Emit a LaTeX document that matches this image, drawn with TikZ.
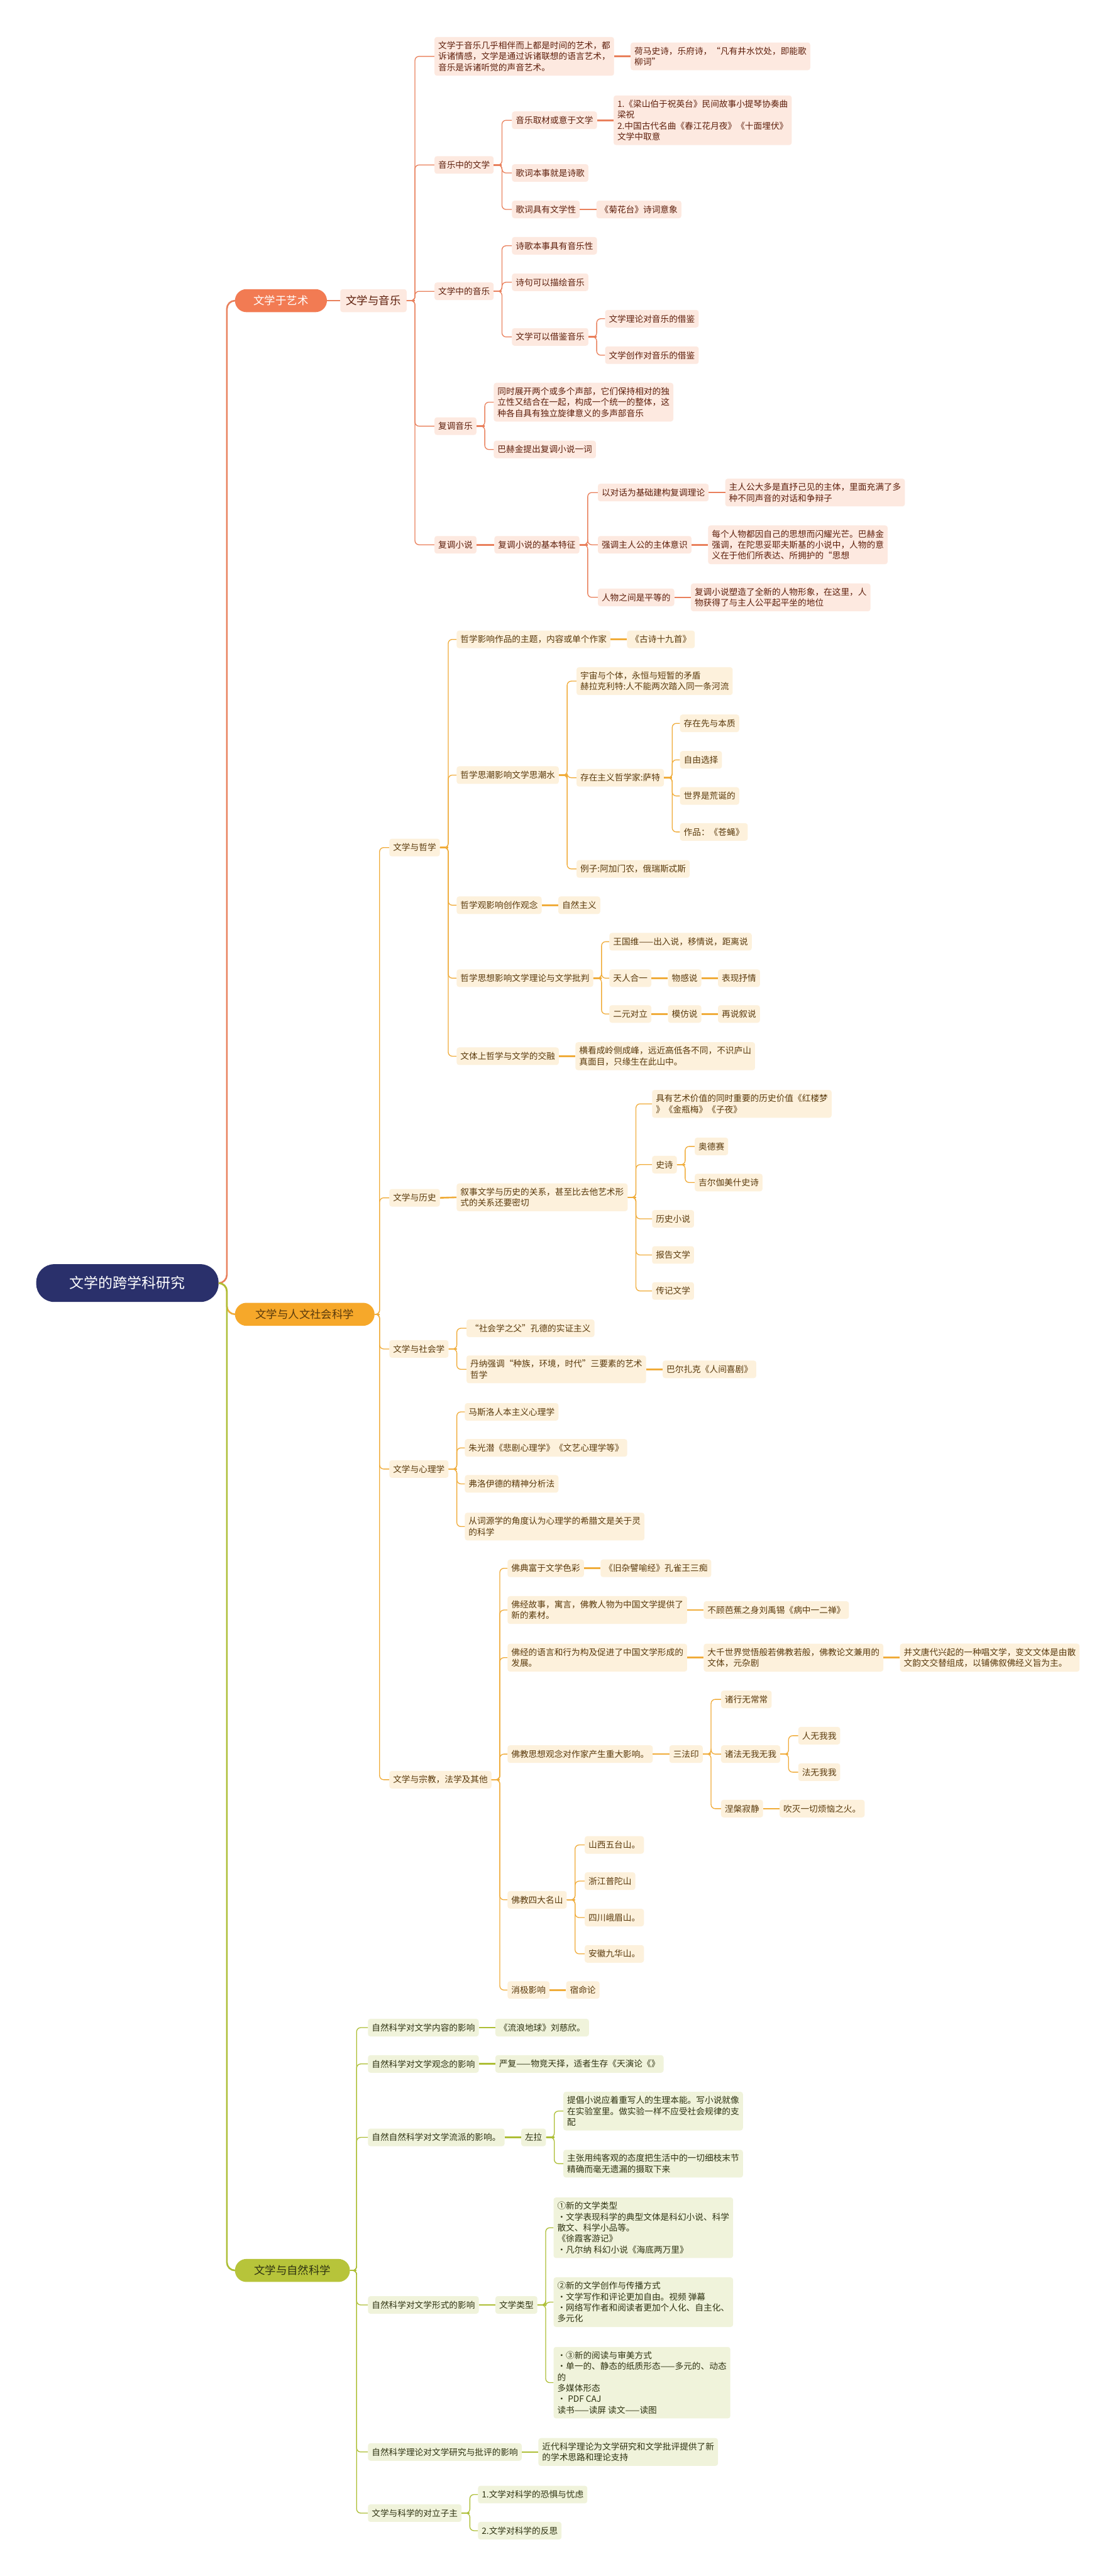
\documentclass[tikz,border=0pt]{standalone}
\usepackage{fontspec}
\setmainfont{Noto Sans CJK SC}
\usepackage{tikz}
\usetikzlibrary{positioning}

\definecolor{rootblue}{HTML}{2A306B}
\definecolor{artmain}{HTML}{F27B53}
\definecolor{artline}{HTML}{E9805C}
\definecolor{artfill}{HTML}{FDE9E0}
\definecolor{arttext}{HTML}{5E1F0C}
\definecolor{humain}{HTML}{F6A82A}
\definecolor{huline}{HTML}{F0AC3A}
\definecolor{hufill}{HTML}{FDF1DC}
\definecolor{hutext}{HTML}{5A3A0C}
\definecolor{scimain}{HTML}{B7C43A}
\definecolor{sciline}{HTML}{ADBE35}
\definecolor{scifill}{HTML}{F0F3DB}
\definecolor{scitext}{HTML}{2F3312}

\newcommand{\leafsize}{\fontsize{14.9pt}{18.9pt}\selectfont}
\newcommand{\headsize}{\fontsize{19pt}{22pt}\selectfont}
\newcommand{\rootsize}{\fontsize{25pt}{28pt}\selectfont}

\tikzset{
  leaf/.style={
    rectangle, rounded corners=1.5mm, inner xsep=2.3mm, inner ysep=2.7mm,
    minimum height=10.7mm, align=left, anchor=west, font=\leafsize
  },
  art box/.style={leaf, fill=artfill, text=arttext},
  hu box/.style={leaf, fill=hufill, text=hutext},
  sci box/.style={leaf, fill=scifill, text=scitext},
  music box/.style={art box, font=\headsize, minimum height=14mm, inner xsep=3.5mm},
  main box/.style={
    rectangle, rounded corners=7mm, minimum height=14mm, anchor=west,
    font=\headsize, inner xsep=5mm
  },
  root box/.style={
    rectangle, rounded corners=11mm, minimum height=23mm, minimum width=111mm,
    anchor=west, font=\rootsize, fill=rootblue, text=white
  },
  fork/.style={to path={-- ++(#1,0) |- (\tikztotarget)}},
  fork/.default=5mm,
  art link/.style={draw=artline, line width=0.5mm, rounded corners=2.5mm},
  art bar/.style={draw=artline, line width=1mm},
  hu link/.style={draw=huline, line width=0.5mm, rounded corners=2.5mm},
  hu bar/.style={draw=huline, line width=1mm},
  sci link/.style={draw=sciline, line width=0.5mm, rounded corners=2.5mm},
  sci bar/.style={draw=sciline, line width=1mm}
}

\begin{document}
\begin{tikzpicture}[x=1mm, y=-1mm, node distance=10mm]
  \fill[white] (0,0) rectangle (678,1568);

  % root and main branches
  \node[root box] (root) at (22,781) {文学的跨学科研究};
  \node[main box, fill=artmain, text=white, minimum width=56mm] (art) at (143,183) {文学于艺术};
  \node[main box, fill=humain, text=hutext, minimum width=85mm] (human) at (143,800) {文学与人文社会科学};
  \node[main box, fill=scimain, text=scitext, minimum width=70mm] (science) at (143,1382) {文学与自然科学};

  \draw[art bar, rounded corners=5mm] (root.east) to[fork] (art.west);
  \draw[hu bar, rounded corners=5mm] (root.east) to[fork] (human.west);
  \draw[sci bar, rounded corners=5mm] (root.east) to[fork] (science.west);

  % ---- art / music
  \node[music box, right=8mm of art] (music) {文学与音乐};
  \draw[art bar] (art.east) -- (music.west);

  \node[art box] (a1) at (264.5,34.3) {文学于音乐几乎相伴而上都是时间的艺术，都\\诉诸情感，文学是通过诉诸联想的语言艺术，\\音乐是诉诸听觉的声音艺术。};
  \node[art box, right=of a1] (a1x) {荷马史诗，乐府诗，“凡有井水饮处，即能歌\\柳词”};
  \node[art box] (a2) at (264.5,100.4) {音乐中的文学};
  \node[art box] (a2a) at (311.7,73.2) {音乐取材或意于文学};
  \node[art box, right=of a2a] (a2ax) {1.《梁山伯于祝英台》民间故事小提琴协奏曲\\梁祝\\2.中国古代名曲《春江花月夜》《十面埋伏》\\文学中取意};
  \node[art box] (a2b) at (311.7,105.3) {歌词本事就是诗歌};
  \node[art box] (a2c) at (311.7,127.5) {歌词具有文学性};
  \node[art box, right=of a2c] (a2cx) {《菊花台》诗词意象};
  \node[art box] (a3) at (264.5,177.3) {文学中的音乐};
  \node[art box] (a3a) at (311.7,149.6) {诗歌本事具有音乐性};
  \node[art box] (a3b) at (311.7,171.8) {诗句可以描绘音乐};
  \node[art box] (a3c) at (311.7,205.1) {文学可以借鉴音乐};
  \node[art box] (a3c1) at (368.4,194) {文学理论对音乐的借鉴};
  \node[art box] (a3c2) at (368.4,216.2) {文学创作对音乐的借鉴};
  \node[art box] (a4) at (264.5,259.4) {复调音乐};
  \node[art box] (a4a) at (300.6,244.8) {同时展开两个或多个声部，它们保持相对的独\\立性又结合在一起，构成一个统一的整体，这\\种各自具有独立旋律意义的多声部音乐};
  \node[art box] (a4b) at (300.6,273.6) {巴赫金提出复调小说一词};
  \node[art box] (a5) at (264.5,331.6) {复调小说};
  \node[art box] (a5a) at (301,331.6) {复调小说的基本特征};
  \node[art box] (a5a1) at (364,299.8) {以对话为基础建构复调理论};
  \node[art box, right=of a5a1] (a5a1x) {主人公大多是直抒己见的主体，里面充满了多\\种不同声音的对话和争辩子};
  \node[art box] (a5a2) at (364,331.6) {强调主人公的主体意识};
  \node[art box, right=of a5a2] (a5a2x) {每个人物都因自己的思想而闪耀光芒。巴赫金\\强调，在陀思妥耶夫斯基的小说中，人物的意\\义在于他们所表达、所拥护的“思想};
  \node[art box] (a5a3) at (364,363.6) {人物之间是平等的};
  \node[art box, right=of a5a3] (a5a3x) {复调小说塑造了全新的人物形象，在这里，人\\物获得了与主人公平起平坐的地位};

  \draw[art bar] (music.east) -- ++(5mm,0);
  \draw[art link] (music.east) to[fork] (a1.west);
  \draw[art link] (music.east) to[fork] (a2.west);
  \draw[art link] (music.east) to[fork] (a3.west);
  \draw[art link] (music.east) to[fork] (a4.west);
  \draw[art link] (music.east) to[fork] (a5.west);
  \draw[art bar] (a1.east) -- (a1x.west);
  \draw[art bar] (a2.east) -- ++(5mm,0);
  \draw[art link] (a2.east) to[fork] (a2a.west);
  \draw[art link] (a2.east) to[fork] (a2b.west);
  \draw[art link] (a2.east) to[fork] (a2c.west);
  \draw[art bar] (a2a.east) -- (a2ax.west);
  \draw[art bar] (a2c.east) -- (a2cx.west);
  \draw[art bar] (a3.east) -- ++(5mm,0);
  \draw[art link] (a3.east) to[fork] (a3a.west);
  \draw[art link] (a3.east) to[fork] (a3b.west);
  \draw[art link] (a3.east) to[fork] (a3c.west);
  \draw[art bar] (a3c.east) -- ++(5mm,0);
  \draw[art link] (a3c.east) to[fork] (a3c1.west);
  \draw[art link] (a3c.east) to[fork] (a3c2.west);
  \draw[art bar] (a4.east) -- ++(5mm,0);
  \draw[art link] (a4.east) to[fork] (a4a.west);
  \draw[art link] (a4.east) to[fork] (a4b.west);
  \draw[art bar] (a5.east) -- (a5a.west);
  \draw[art bar] (a5a.east) -- ++(5mm,0);
  \draw[art link] (a5a.east) to[fork] (a5a1.west);
  \draw[art link] (a5a.east) to[fork] (a5a2.west);
  \draw[art link] (a5a.east) to[fork] (a5a3.west);
  \draw[art bar] (a5a1.east) -- (a5a1x.west);
  \draw[art bar] (a5a2.east) -- (a5a2x.west);
  \draw[art bar] (a5a3.east) -- (a5a3x.west);

  % ---- human and social sciences
  \node[hu box] (h1) at (237,515.9) {文学与哲学};
  \node[hu box] (h1a) at (278,389.2) {哲学影响作品的主题，内容或单个作家};
  \node[hu box, right=of h1a] (h1ax) {《古诗十九首》};
  \node[hu box] (h1b) at (278,471.8) {哲学思潮影响文学思潮水};
  \node[hu box] (h1b1) at (351,414.6) {宇宙与个体，永恒与短暂的矛盾\\赫拉克利特:人不能两次踏入同一条河流};
  \node[hu box] (h1b2) at (351,473.4) {存在主义哲学家:萨特};
  \node[hu box] (h1b2a) at (414,440.3) {存在先与本质};
  \node[hu box] (h1b2b) at (414,462.5) {自由选择};
  \node[hu box] (h1b2c) at (414,484.5) {世界是荒诞的};
  \node[hu box] (h1b2d) at (414,506.4) {作品：《苍蝇》};
  \node[hu box] (h1b3) at (351,528.9) {例子:阿加门农，俄瑞斯忒斯};
  \node[hu box] (h1c) at (278,551) {哲学观影响创作观念};
  \node[hu box, right=of h1c] (h1cx) {自然主义};
  \node[hu box] (h1d) at (278,595.4) {哲学思想影响文学理论与文学批判};
  \node[hu box] (h1d1) at (371,573.2) {王国维——出入说，移情说，距离说};
  \node[hu box] (h1d2) at (371,595.4) {天人合一};
  \node[hu box, right=of h1d2] (h1d2x) {物感说};
  \node[hu box, right=of h1d2x] (h1d2y) {表现抒情};
  \node[hu box] (h1d3) at (371,617.2) {二元对立};
  \node[hu box, right=of h1d3] (h1d3x) {模仿说};
  \node[hu box, right=of h1d3x] (h1d3y) {再说叙说};
  \node[hu box] (h1e) at (278,642.9) {文体上哲学与文学的交融};
  \node[hu box, right=of h1e] (h1ex) {横看成岭侧成峰，远近高低各不同，不识庐山\\真面目，只缘生在此山中。};

  \node[hu box] (h2) at (237,729.1) {文学与历史};
  \node[hu box] (h2a) at (278,728.8) {叙事文学与历史的关系，甚至比去他艺术形\\式的关系还要密切};
  \node[hu box] (h2a1) at (397,671.9) {具有艺术价值的同时重要的历史价值《红楼梦\\》《金瓶梅》《子夜》};
  \node[hu box] (h2a2) at (397,708.9) {史诗};
  \node[hu box] (h2a2a) at (423,697.8) {奥德赛};
  \node[hu box] (h2a2b) at (423,719.8) {吉尔伽美什史诗};
  \node[hu box] (h2a3) at (397,741.9) {历史小说};
  \node[hu box] (h2a4) at (397,763.9) {报告文学};
  \node[hu box] (h2a5) at (397,785.8) {传记文学};

  \node[hu box] (h3) at (237,821.1) {文学与社会学};
  \node[hu box] (h3a) at (284,808.5) {“社会学之父”孔德的实证主义};
  \node[hu box] (h3b) at (284,833.5) {丹纳强调“种族，环境，时代”三要素的艺术\\哲学};
  \node[hu box, right=of h3b] (h3bx) {巴尔扎克《人间喜剧》};

  \node[hu box] (h4) at (237,894.2) {文学与心理学};
  \node[hu box] (h4a) at (283,859.4) {马斯洛人本主义心理学};
  \node[hu box] (h4b) at (283,881.3) {朱光潜《悲剧心理学》《文艺心理学等》};
  \node[hu box] (h4c) at (283,903.2) {弗洛伊德的精神分析法};
  \node[hu box] (h4d) at (283,929.2) {从词源学的角度认为心理学的希腊文是关于灵\\的科学};

  \node[hu box] (h5) at (237,1083.3) {文学与宗教，法学及其他};
  \node[hu box] (h5a) at (309,954.6) {佛典富于文学色彩};
  \node[hu box, right=of h5a] (h5ax) {《旧杂譬喻经》孔雀王三痴};
  \node[hu box] (h5b) at (309,980) {佛经故事，寓言，佛教人物为中国文学提供了\\新的素材。};
  \node[hu box, right=of h5b] (h5bx) {不顾芭蕉之身刘禹锡《病中一二禅》};
  \node[hu box] (h5c) at (309,1009) {佛经的语言和行为构及促进了中国文学形成的\\发展。};
  \node[hu box, right=of h5c] (h5cx) {大千世界觉悟般若佛教若般，佛教论文兼用的\\文体，元杂剧};
  \node[hu box, right=of h5cx] (h5cy) {并文唐代兴起的一种唱文学，变文文体是由散\\文韵文交替组成，以铺佛叙佛经义旨为主。};
  \node[hu box] (h5d) at (309,1067.7) {佛教思想观念对作家产生重大影响。};
  \node[hu box, right=of h5d] (h5dx) {三法印};
  \node[hu box] (h5d1) at (439,1034.4) {诸行无常常};
  \node[hu box] (h5d2) at (439,1067.7) {诸法无我无我};
  \node[hu box] (h5d2a) at (486,1056.5) {人无我我};
  \node[hu box] (h5d2b) at (486,1078.7) {法无我我};
  \node[hu box] (h5d3) at (439,1100.9) {涅槃寂静};
  \node[hu box, right=of h5d3] (h5d3x) {吹灭一切烦恼之火。};
  \node[hu box] (h5e) at (309,1156.4) {佛教四大名山};
  \node[hu box] (h5e1) at (356,1123) {山西五台山。};
  \node[hu box] (h5e2) at (356,1145) {浙江普陀山};
  \node[hu box] (h5e3) at (356,1167.2) {四川峨眉山。};
  \node[hu box] (h5e4) at (356,1189.3) {安徽九华山。};
  \node[hu box] (h5f) at (309,1211.3) {消极影响};
  \node[hu box, right=of h5f] (h5fx) {宿命论};

  \draw[hu bar] (human.east) -- ++(3mm,0);
  \draw[hu link] (human.east) to[fork=3mm] (h1.west);
  \draw[hu link] (human.east) to[fork=3mm] (h2.west);
  \draw[hu link] (human.east) to[fork=3mm] (h3.west);
  \draw[hu link] (human.east) to[fork=3mm] (h4.west);
  \draw[hu link] (human.east) to[fork=3mm] (h5.west);
  \draw[hu bar] (h1.east) -- ++(5mm,0);
  \draw[hu link] (h1.east) to[fork] (h1a.west);
  \draw[hu link] (h1.east) to[fork] (h1b.west);
  \draw[hu link] (h1.east) to[fork] (h1c.west);
  \draw[hu link] (h1.east) to[fork] (h1d.west);
  \draw[hu link] (h1.east) to[fork] (h1e.west);
  \draw[hu bar] (h1a.east) -- (h1ax.west);
  \draw[hu bar] (h1b.east) -- ++(5mm,0);
  \draw[hu link] (h1b.east) to[fork] (h1b1.west);
  \draw[hu link] (h1b.east) to[fork] (h1b2.west);
  \draw[hu link] (h1b.east) to[fork] (h1b3.west);
  \draw[hu bar] (h1b2.east) -- ++(5mm,0);
  \draw[hu link] (h1b2.east) to[fork] (h1b2a.west);
  \draw[hu link] (h1b2.east) to[fork] (h1b2b.west);
  \draw[hu link] (h1b2.east) to[fork] (h1b2c.west);
  \draw[hu link] (h1b2.east) to[fork] (h1b2d.west);
  \draw[hu bar] (h1c.east) -- (h1cx.west);
  \draw[hu bar] (h1d.east) -- ++(5mm,0);
  \draw[hu link] (h1d.east) to[fork] (h1d1.west);
  \draw[hu link] (h1d.east) to[fork] (h1d2.west);
  \draw[hu link] (h1d.east) to[fork] (h1d3.west);
  \draw[hu bar] (h1d2.east) -- (h1d2x.west);
  \draw[hu bar] (h1d2x.east) -- (h1d2y.west);
  \draw[hu bar] (h1d3.east) -- (h1d3x.west);
  \draw[hu bar] (h1d3x.east) -- (h1d3y.west);
  \draw[hu bar] (h1e.east) -- (h1ex.west);
  \draw[hu bar] (h2.east) -- (h2a.west);
  \draw[hu bar] (h2a.east) -- ++(5mm,0);
  \draw[hu link] (h2a.east) to[fork] (h2a1.west);
  \draw[hu link] (h2a.east) to[fork] (h2a2.west);
  \draw[hu link] (h2a.east) to[fork] (h2a3.west);
  \draw[hu link] (h2a.east) to[fork] (h2a4.west);
  \draw[hu link] (h2a.east) to[fork] (h2a5.west);
  \draw[hu bar] (h2a2.east) -- ++(5mm,0);
  \draw[hu link] (h2a2.east) to[fork] (h2a2a.west);
  \draw[hu link] (h2a2.east) to[fork] (h2a2b.west);
  \draw[hu bar] (h3.east) -- ++(5mm,0);
  \draw[hu link] (h3.east) to[fork] (h3a.west);
  \draw[hu link] (h3.east) to[fork] (h3b.west);
  \draw[hu bar] (h3b.east) -- (h3bx.west);
  \draw[hu bar] (h4.east) -- ++(5mm,0);
  \draw[hu link] (h4.east) to[fork] (h4a.west);
  \draw[hu link] (h4.east) to[fork] (h4b.west);
  \draw[hu link] (h4.east) to[fork] (h4c.west);
  \draw[hu link] (h4.east) to[fork] (h4d.west);
  \draw[hu bar] (h5.east) -- ++(5mm,0);
  \draw[hu link] (h5.east) to[fork] (h5a.west);
  \draw[hu link] (h5.east) to[fork] (h5b.west);
  \draw[hu link] (h5.east) to[fork] (h5c.west);
  \draw[hu link] (h5.east) to[fork] (h5d.west);
  \draw[hu link] (h5.east) to[fork] (h5e.west);
  \draw[hu link] (h5.east) to[fork] (h5f.west);
  \draw[hu bar] (h5a.east) -- (h5ax.west);
  \draw[hu bar] (h5b.east) -- (h5bx.west);
  \draw[hu bar] (h5c.east) -- (h5cx.west);
  \draw[hu bar] (h5cx.east) -- (h5cy.west);
  \draw[hu bar] (h5d.east) -- (h5dx.west);
  \draw[hu bar] (h5dx.east) -- ++(5mm,0);
  \draw[hu link] (h5dx.east) to[fork] (h5d1.west);
  \draw[hu link] (h5dx.east) to[fork] (h5d2.west);
  \draw[hu link] (h5dx.east) to[fork] (h5d3.west);
  \draw[hu bar] (h5d2.east) -- ++(5mm,0);
  \draw[hu link] (h5d2.east) to[fork] (h5d2a.west);
  \draw[hu link] (h5d2.east) to[fork] (h5d2b.west);
  \draw[hu bar] (h5d3.east) -- (h5d3x.west);
  \draw[hu bar] (h5e.east) -- ++(5mm,0);
  \draw[hu link] (h5e.east) to[fork] (h5e1.west);
  \draw[hu link] (h5e.east) to[fork] (h5e2.west);
  \draw[hu link] (h5e.east) to[fork] (h5e3.west);
  \draw[hu link] (h5e.east) to[fork] (h5e4.west);
  \draw[hu bar] (h5f.east) -- (h5fx.west);

  % ---- natural sciences
  \node[sci box] (s1) at (224,1234.2) {自然科学对文学内容的影响};
  \node[sci box, right=of s1] (s1x) {《流浪地球》刘慈欣。};
  \node[sci box] (s2) at (224,1256.3) {自然科学对文学观念的影响};
  \node[sci box, right=of s2] (s2x) {严复——物竞天择，适者生存《天演论《》};
  \node[sci box] (s3) at (224,1301) {自然自然科学对文学流派的影响。};
  \node[sci box, right=of s3] (s3x) {左拉};
  \node[sci box] (s3a) at (343,1285) {提倡小说应着重写人的生理本能。写小说就像\\在实验室里。做实验一样不应受社会规律的支\\配};
  \node[sci box] (s3b) at (343,1317) {主张用纯客观的态度把生活中的一切细枝末节\\精确而毫无遗漏的摄取下来};
  \node[sci box] (s4) at (224,1403) {自然科学对文学形式的影响};
  \node[sci box, right=of s4] (s4x) {文学类型};
  \node[sci box] (s4a) at (337,1356) {①新的文学类型\\•文学表现科学的典型文体是科幻小说、科学\\散文、科学小品等。\\《徐霞客游记》\\•凡尔纳 科幻小说《海底两万里》};
  \node[sci box] (s4b) at (337,1401.3) {②新的文学创作与传播方式\\•文学写作和评论更加自由。视频 弹幕\\•网络写作者和阅读者更加个人化、自主化、\\多元化};
  \node[sci box] (s4c) at (337,1450.3) {•③新的阅读与审美方式\\•单一的、静态的纸质形态——多元的、动态\\的\\多媒体形态\\• PDF CAJ\\读书——读屏 读文——读图};
  \node[sci box] (s5) at (224,1492.5) {自然科学理论对文学研究与批评的影响};
  \node[sci box, right=of s5] (s5x) {近代科学理论为文学研究和文学批评提供了新\\的学术思路和理论支持};
  \node[sci box] (s6) at (224,1529.7) {文学与科学的对立子主};
  \node[sci box] (s6a) at (291,1518.4) {1.文学对科学的恐惧与忧虑};
  \node[sci box] (s6b) at (291,1540.4) {2.文学对科学的反思};

  \draw[sci bar] (science.east) -- ++(4mm,0);
  \draw[sci link] (science.east) to[fork=4mm] (s1.west);
  \draw[sci link] (science.east) to[fork=4mm] (s2.west);
  \draw[sci link] (science.east) to[fork=4mm] (s3.west);
  \draw[sci link] (science.east) to[fork=4mm] (s4.west);
  \draw[sci link] (science.east) to[fork=4mm] (s5.west);
  \draw[sci link] (science.east) to[fork=4mm] (s6.west);
  \draw[sci bar] (s1.east) -- (s1x.west);
  \draw[sci bar] (s2.east) -- (s2x.west);
  \draw[sci bar] (s3.east) -- (s3x.west);
  \draw[sci bar] (s3x.east) -- ++(5mm,0);
  \draw[sci link] (s3x.east) to[fork] (s3a.west);
  \draw[sci link] (s3x.east) to[fork] (s3b.west);
  \draw[sci bar] (s4.east) -- (s4x.west);
  \draw[sci bar] (s4x.east) -- ++(5mm,0);
  \draw[sci link] (s4x.east) to[fork] (s4a.west);
  \draw[sci link] (s4x.east) to[fork] (s4b.west);
  \draw[sci link] (s4x.east) to[fork] (s4c.west);
  \draw[sci bar] (s5.east) -- (s5x.west);
  \draw[sci bar] (s6.east) -- ++(5mm,0);
  \draw[sci link] (s6.east) to[fork] (s6a.west);
  \draw[sci link] (s6.east) to[fork] (s6b.west);
\end{tikzpicture}
\end{document}
